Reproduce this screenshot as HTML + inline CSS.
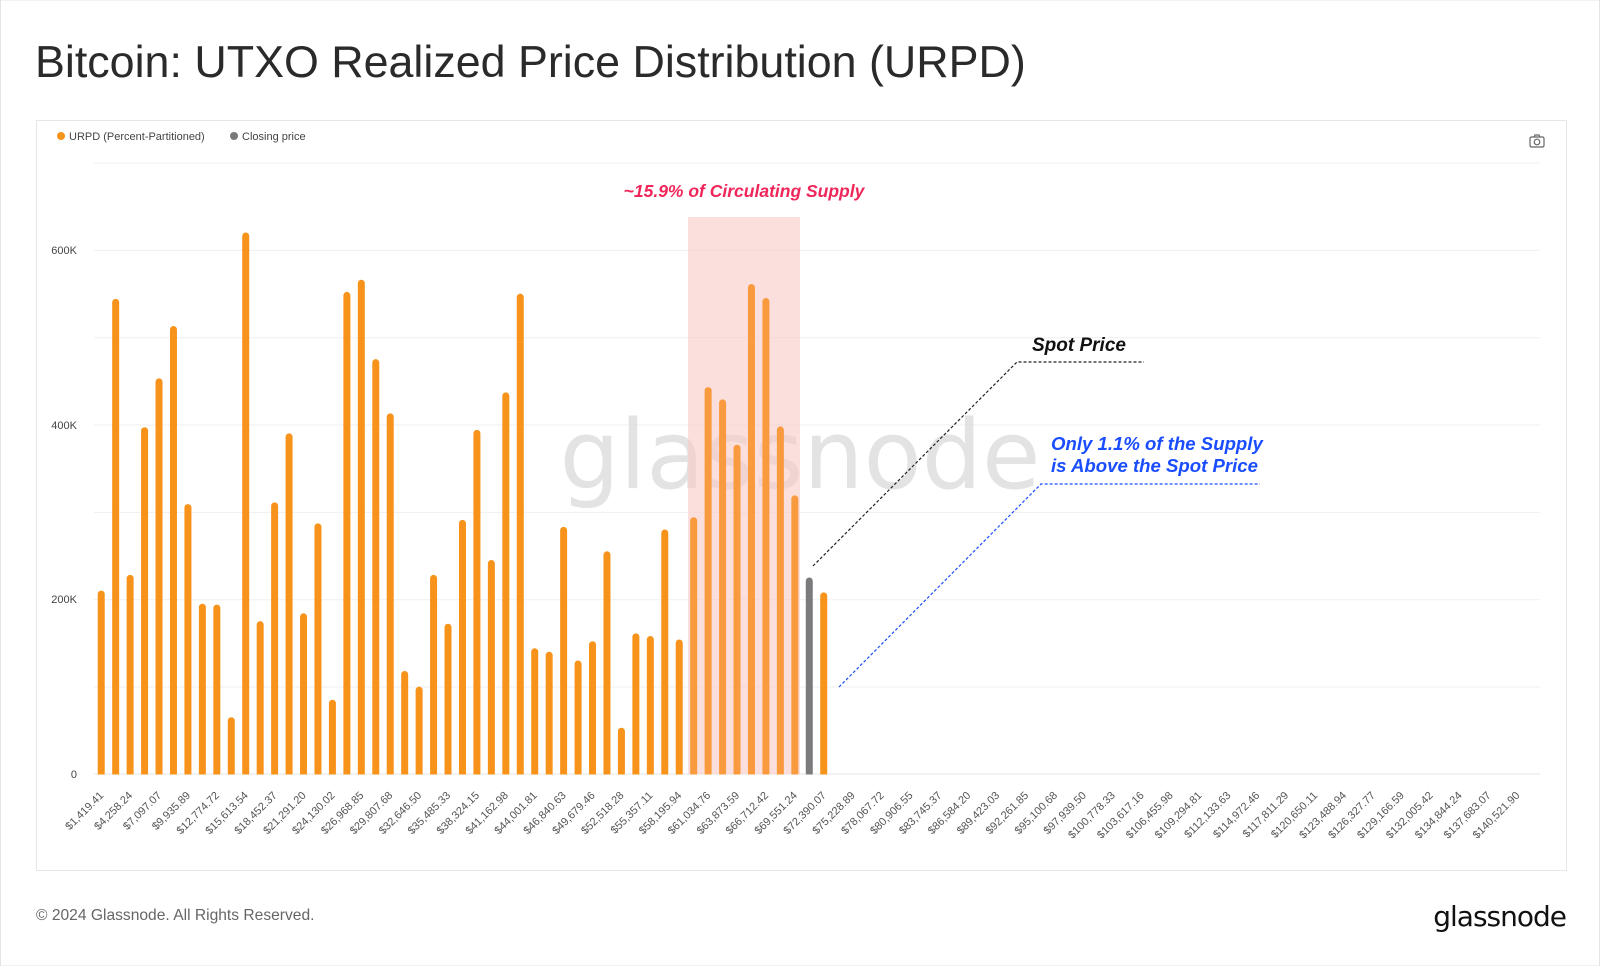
<!DOCTYPE html>
<html><head><meta charset="utf-8"><style>
html,body{margin:0;padding:0;background:#fff;}
body{width:1600px;height:966px;overflow:hidden;font-family:"Liberation Sans",sans-serif;}
</style></head><body>
<svg width="1600" height="966" viewBox="0 0 1600 966" xmlns="http://www.w3.org/2000/svg" font-family="Liberation Sans, sans-serif">
<rect x="0.5" y="0" width="1599" height="966" fill="#fff" stroke="#e4e4e4"/>
<text x="35" y="77" font-size="44.8" fill="#2a2a2a">Bitcoin: UTXO Realized Price Distribution (URPD)</text>
<rect x="36.5" y="120.5" width="1530" height="750" fill="#fff" stroke="#e6e6e6"/>
<circle cx="61" cy="136" r="4" fill="#f7931a"/>
<text x="69" y="140" font-size="11" fill="#444">URPD (Percent-Partitioned)</text>
<circle cx="234" cy="136" r="4" fill="#7a7a7a"/>
<text x="242" y="140" font-size="11" fill="#444">Closing price</text>
<g transform="translate(1537,141)" fill="none" stroke="#666" stroke-width="1.2"><rect x="-7" y="-4" width="14" height="10" rx="1.5"/><circle cx="0" cy="1" r="2.8"/><path d="M-3,-4 l1,-2 h4 l1,2"/></g>
<g stroke="#efefef" stroke-width="1">
<line x1="94" x2="1540" y1="163" y2="163"/><line x1="94" x2="1540" y1="250.4" y2="250.4"/><line x1="94" x2="1540" y1="337.7" y2="337.7"/><line x1="94" x2="1540" y1="425" y2="425"/><line x1="94" x2="1540" y1="512.4" y2="512.4"/><line x1="94" x2="1540" y1="599.7" y2="599.7"/><line x1="94" x2="1540" y1="687" y2="687"/><line x1="94" x2="1540" y1="774" y2="774" stroke="#e4e4e4"/>
</g>
<g font-size="11" fill="#444" text-anchor="end">
<text x="77" y="254">600K</text><text x="77" y="429">400K</text><text x="77" y="603">200K</text><text x="77" y="778">0</text>
</g>
<text x="800" y="488" font-size="95" fill="#d9d9d9" fill-opacity="0.75" text-anchor="middle" font-family="DejaVu Sans, sans-serif">glassnode</text>
<rect x="688" y="217" width="112" height="557" fill="#f9c9c4" fill-opacity="0.6"/>
<g id="bars"></g>
<g id="labels" font-size="11" fill="#555"></g>
<text x="744" y="197" font-size="17.5" font-weight="bold" font-style="italic" fill="#f0265a" text-anchor="middle">~15.9% of Circulating Supply</text>
<text x="1032" y="351" font-size="19" font-weight="bold" font-style="italic" fill="#111">Spot Price</text>
<polyline points="813,566 1017,362 1144,362" fill="none" stroke="#222" stroke-width="1.2" stroke-dasharray="3,2"/>
<text x="1051" y="450" font-size="18.6" font-weight="bold" font-style="italic" fill="#1a4dff">Only 1.1% of the Supply</text>
<text x="1051" y="472" font-size="18.6" font-weight="bold" font-style="italic" fill="#1a4dff">is Above the Spot Price</text>
<polyline points="839,687 1041,484 1260,484" fill="none" stroke="#1a4dff" stroke-width="1.2" stroke-dasharray="3,2"/>
<text x="36" y="920" font-size="15.6" fill="#666">© 2024 Glassnode. All Rights Reserved.</text>
<text x="1566" y="926" font-size="28" fill="#111" text-anchor="end" font-family="DejaVu Sans, sans-serif" letter-spacing="-1">glassnode</text>
</svg>
<script>
var h=[210,544,228,397,453,513,309,195,194,65,620,175,311,390,184,287,85,552,566,475,413,118,100,228,172,291,394,245,437,550,144,140,283,130,152,255,53,161,158,280,154,294,443,429,377,561,545,398,319,225,208];
var labs=["1,419.41","4,258.24","7,097.07","9,935.89","12,774.72","15,613.54","18,452.37","21,291.20","24,130.02","26,968.85","29,807.68","32,646.50","35,485.33","38,324.15","41,162.98","44,001.81","46,840.63","49,679.46","52,518.28","55,357.11","58,195.94","61,034.76","63,873.59","66,712.42","69,551.24","72,390.07","75,228.89","78,067.72","80,906.55","83,745.37","86,584.20","89,423.03","92,261.85","95,100.68","97,939.50","100,778.33","103,617.16","106,455.98","109,294.81","112,133.63","114,972.46","117,811.29","120,650.11","123,488.94","126,327.77","129,166.59","132,005.42","134,844.24","137,683.07","140,521.90"];
var ns="http://www.w3.org/2000/svg",g=document.getElementById("bars"),L=document.getElementById("labels");
var z=774,k=524/600;
h.forEach(function(v,i){var cx=94+(i+0.5)*14.45,t=z-v*k;var r=document.createElementNS(ns,"rect");
r.setAttribute("x",cx-3.5);r.setAttribute("y",t);r.setAttribute("width",7);r.setAttribute("height",z-t+3);r.setAttribute("rx",3.5);
r.setAttribute("fill",i==49?"#7b7b7e":(i>=41&&i<=48?"#f99a3e":"#f7931a"));g.appendChild(r);});
var cp=document.createElementNS(ns,"rect");cp.setAttribute("x",90);cp.setAttribute("y",774.5);cp.setAttribute("width",1460);cp.setAttribute("height",10);cp.setAttribute("fill","#fff");g.appendChild(cp);
for(var j=0;j<50;j++){var i=2*j;
var cx=94+(i+0.5)*14.45;var t=document.createElementNS(ns,"text");t.setAttribute("text-anchor","end");
t.setAttribute("transform","translate("+(cx+3)+",796) rotate(-45)");t.textContent="$"+labs[j];L.appendChild(t);}
</script>
</body></html>
